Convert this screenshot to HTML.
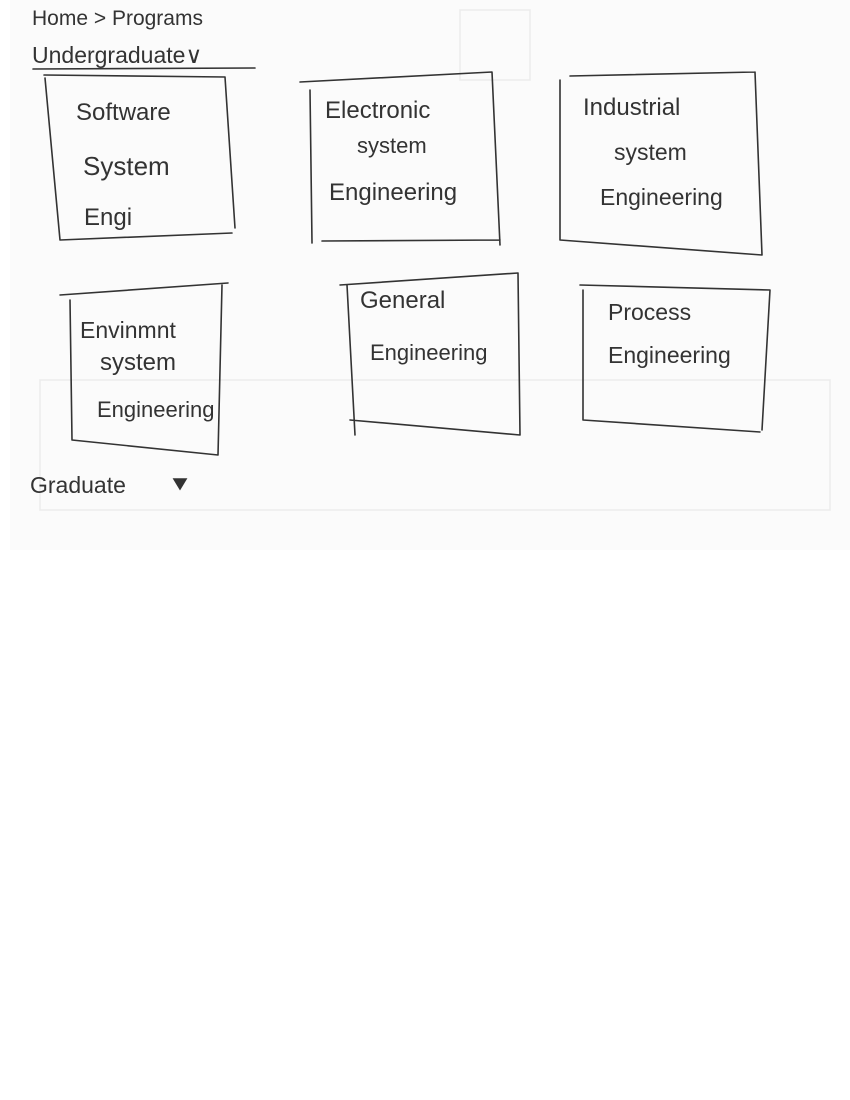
<!DOCTYPE html>
<html><head><meta charset="utf-8"><style>
html,body{margin:0;padding:0;background:#fff;}
svg{display:block}
text{font-family:"Liberation Sans",sans-serif;fill:#333;}
</style></head><body>
<svg width="850" height="1100" viewBox="0 0 850 1100" xmlns="http://www.w3.org/2000/svg">
<rect x="0" y="0" width="850" height="1100" fill="#fff"/>
<rect x="10" y="0" width="840" height="550" fill="#fbfbfb"/>
<g stroke="#ececec" stroke-width="1.5" fill="none">
<rect x="460" y="10" width="70" height="70"/>
<rect x="40" y="380" width="790" height="130"/>
</g>
<g stroke="#333" stroke-width="1.6" fill="none" stroke-linecap="round">
<line x1="33" y1="69" x2="255" y2="68"/>
<path d="M44 75 L225 77 M45 78 L60 240 M225 77 L235 228 M60 240 L232 233"/>
<path d="M300 82 L492 72 M310 90 L312 243 M492 72 L500 245 M322 241 L500 240"/>
<path d="M570 76 L755 72 M560 80 L560 240 M755 72 L762 255 M560 240 L762 255"/>
<path d="M60 295 L228 283 M70 300 L72 440 M222 285 L218 455 M72 440 L218 455"/>
<path d="M340 285 L518 273 M347 285 L355 435 M518 273 L520 435 M350 420 L520 435"/>
<path d="M580 285 L770 290 M583 290 L583 420 M770 290 L762 430 M583 420 L760 432"/>
<path d="M174 479 L186 479 L180 489 Z" fill="#333"/>
</g>
<text x="32" y="25" font-size="21">Home &gt; Programs</text>
<text x="32" y="63" font-size="23">Undergraduate∨</text>
<text x="76" y="120" font-size="24">Software</text>
<text x="83" y="175" font-size="26">System</text>
<text x="84" y="225" font-size="24">Engi</text>
<text x="325" y="118" font-size="24">Electronic</text>
<text x="357" y="153" font-size="22">system</text>
<text x="329" y="200" font-size="24">Engineering</text>
<text x="583" y="115" font-size="24">Industrial</text>
<text x="614" y="160" font-size="23">system</text>
<text x="600" y="205" font-size="23">Engineering</text>
<text x="80" y="338" font-size="23">Envinmnt</text>
<text x="100" y="370" font-size="24">system</text>
<text x="97" y="417" font-size="22">Engineering</text>
<text x="360" y="308" font-size="24">General</text>
<text x="370" y="360" font-size="22">Engineering</text>
<text x="608" y="320" font-size="23">Process</text>
<text x="608" y="363" font-size="23">Engineering</text>
<text x="30" y="493" font-size="23">Graduate</text>
</svg>
</body></html>
